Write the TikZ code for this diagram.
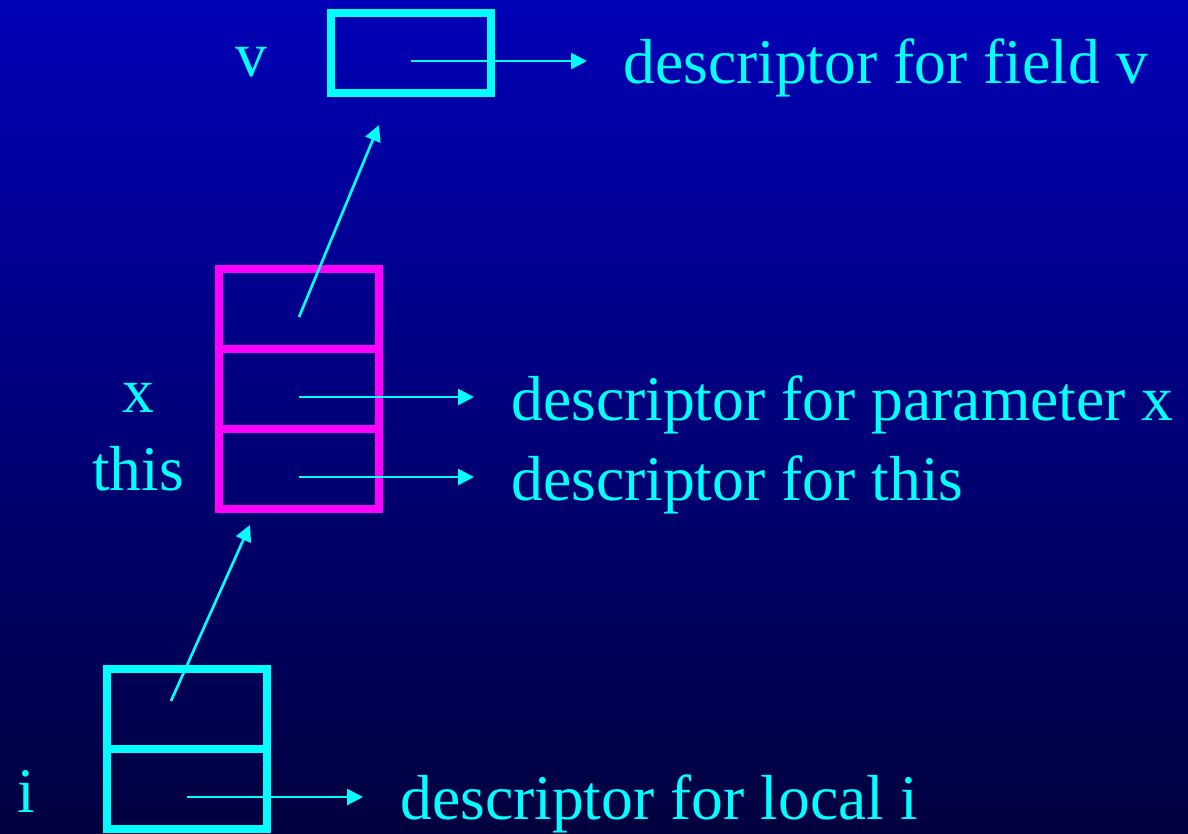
\documentclass[tikz,border=0pt]{standalone}
\usepackage{fontspec}
\setmainfont{Liberation Serif}
\usetikzlibrary{positioning,calc,arrows.meta}
\definecolor{ptrcyan}{RGB}{0,255,255}
\definecolor{framemag}{RGB}{255,0,255}

\begin{document}
\begin{tikzpicture}[x=0.75pt, y=-0.75pt,
    cell/.style={draw, line width=5.6pt, minimum width=120pt, minimum height=60pt, inner sep=0pt, outer sep=0pt},
    lbl/.style={text=ptrcyan, font=\fontsize{47.7}{48}\selectfont, inner sep=0pt},
    ptr/.style={ptrcyan, line width=2pt, -{Triangle[length=12pt, width=12pt]}}]
    \shade[top color={rgb,255:red,0;green,0;blue,182}, bottom color={rgb,255:red,0;green,0;blue,62}] (0,0) rectangle (1188,833);
    \useasboundingbox (0,0) rectangle (1188,833);

    \node[cell, draw=ptrcyan] (vfield) at (411,53) {};
    \node[cell, draw=framemag] (xtop) at (299,309) {};
    \node[cell, draw=framemag, below=0pt of xtop] (xparam) {};
    \node[cell, draw=framemag, below=0pt of xparam] (xthis) {};
    \node[cell, draw=ptrcyan] (ilink) at (187,709) {};
    \node[cell, draw=ptrcyan, below=0pt of ilink] (ilocal) {};

    \node[lbl, anchor=base] (vname) at ($(vfield.west)+(-80,23)$) {v};
    \node[lbl, anchor=base] (xname) at ($(xparam.west)+(-81,23)$) {x};
    \node[lbl, anchor=base] (thisname) at ($(xthis.west)+(-81,21)$) {this};
    \node[lbl, anchor=base] (iname) at ($(ilocal.west)+(-81,23)$) {i};

    \coordinate (vstart) at ($(vfield.center)+(0,8)$);
    \coordinate (vtip) at ($(vfield.center)+(176,8)$);
    \coordinate (xstart) at ($(xparam.center)+(0,8)$);
    \coordinate (xtip) at ($(xparam.center)+(175,8)$);
    \coordinate (thisstart) at ($(xthis.center)+(0,8)$);
    \coordinate (thistip) at ($(xthis.center)+(175,8)$);
    \coordinate (istart) at ($(ilocal.center)+(0,8)$);
    \coordinate (itip) at ($(ilocal.center)+(176,8)$);
    \coordinate (upstart) at ($(xtop.center)+(0,8)$);
    \coordinate (uptip) at ($(vfield.south)+(-32,32)$);
    \coordinate (linkstart) at ($(ilink.center)+(-16,-8)$);
    \coordinate (linktip) at ($(xthis.south)+(-49,16)$);

    \node[lbl, anchor=base west] (vdesc) at ($(vtip)+(36,22)$) {descriptor for field v};
    \node[lbl, anchor=base west] (xdesc) at ($(xtip)+(37,23)$) {descriptor for parameter x};
    \node[lbl, anchor=base west] (thisdesc) at ($(thistip)+(37,23)$) {descriptor for this};
    \node[lbl, anchor=base west] (idesc) at ($(itip)+(37,22)$) {descriptor for local i};

    \draw[ptr] (vstart) -- (vtip);
    \draw[ptr] (xstart) -- (xtip);
    \draw[ptr] (thisstart) -- (thistip);
    \draw[ptr] (istart) -- (itip);
    \draw[ptr] (upstart) -- (uptip);
    \draw[ptr] (linkstart) -- (linktip);
\end{tikzpicture}
\end{document}
